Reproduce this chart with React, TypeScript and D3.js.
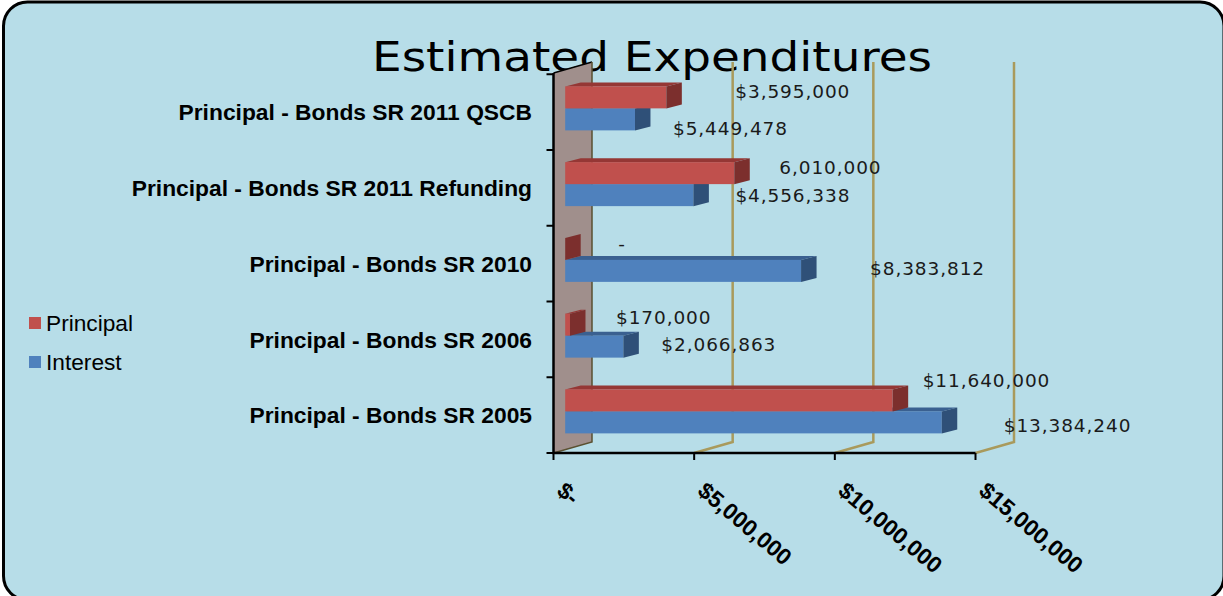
import React from "react";
import * as d3 from "d3";

const categories = [
  "Principal - Bonds SR 2011 QSCB",
  "Principal - Bonds SR 2011 Refunding",
  "Principal - Bonds SR 2010",
  "Principal - Bonds SR 2006",
  "Principal - Bonds SR 2005",
];
const principal = [3595000, 6010000, 0, 170000, 11640000];
const interest = [2480000, 4556338, 8383812, 2066863, 13384240];
const principalLabels = ["$3,595,000", "6,010,000", "-", "$170,000", "$11,640,000"];
const interestLabels = ["$5,449,478", "$4,556,338", "$8,383,812", "$2,066,863", "$13,384,240"];
const xTicks = [0, 5000000, 10000000, 15000000];
const xTickLabels = ["$-", "$5,000,000", "$10,000,000", "$15,000,000"];

// label placement relative to each bar end
const principalDx = [69, 45, 53, 46, 30];
const interestDx = [38, 42, 69, 38, 62];
const principalDy = [1, 1, 1, -1, -13];
const interestDy = [10, 1, -2, -2, 4];

const W = 1223, H = 596;
const x = d3.scaleLinear().domain([0, 15000000]).range([553.5, 975.5]);
const y = d3.scaleBand().domain(categories).range([70.5, 449.25]);
const DEPTH_X = 15.5, DEPTH_Y = 3.8, BAR_INSET = 11.7, BAR_H = 22;
const WALL_X = 38.5, WALL_Y = 11, TOP = 73, BOTTOM = 453;
const BG = "#b7dde8", GRID = "#a99a5c";
const line = d3.line();

function Bar({ v, top, front, upper, side }: any) {
  const x0 = x(0) + BAR_INSET, x1 = x(v) + BAR_INSET, y0 = top, y1 = top + BAR_H;
  return (
    <g>
      <path d={line([[x0, y0], [x0 + DEPTH_X, y0 - DEPTH_Y], [x1 + DEPTH_X, y0 - DEPTH_Y], [x1, y0]])!} fill={upper} />
      <rect x={x0} y={y0} width={x1 - x0} height={y1 - y0} fill={front} />
      <path d={line([[x1, y0], [x1 + DEPTH_X, y0 - DEPTH_Y], [x1 + DEPTH_X, y1 - DEPTH_Y], [x1, y1]])!} fill={side} />
    </g>
  );
}

export default function App() {
  const valueStyle: any = { fontFamily: "DejaVu Sans", fontSize: 18.5, letterSpacing: 0.9, fill: "#1a1a1a" };
  return (
    <svg width={W} height={H} viewBox={`0 0 ${W} ${H}`} style={{ position: "absolute", left: 0, top: 0, display: "block" }}>
      <rect width={W} height={H} fill="#fff" />
      <rect x={3.5} y={2} width={1220.5} height={598} rx={24} fill={BG} stroke="#000" strokeWidth={3} />

      <text x={372} y={71} fontFamily="DejaVu Sans" fontSize={41} textLength={560} lengthAdjust="spacingAndGlyphs" fill="#000">Estimated Expenditures</text>

      {/* back wall and gridlines */}
      <path d={line([[x(0), TOP], [x(0) + WALL_X, TOP - WALL_Y], [x(0) + WALL_X, BOTTOM - WALL_Y], [x(0), BOTTOM]])!} fill="#a08f8c" />
      <path d={line([[x(0), TOP], [x(0) + WALL_X, TOP - WALL_Y]])!} stroke="#000" strokeWidth={1.5} fill="none" />
      <path d={line([[x(0), BOTTOM], [x(0) + WALL_X, BOTTOM - WALL_Y], [x(0) + WALL_X, TOP - WALL_Y]])!} stroke="#5a5030" strokeWidth={1.5} fill="none" />
      {xTicks.slice(1).map((t) => (
        <path key={t} d={line([[x(t), BOTTOM], [x(t) + WALL_X, BOTTOM - WALL_Y], [x(t) + WALL_X, TOP - WALL_Y]])!} stroke={GRID} strokeWidth={2.5} fill="none" />
      ))}

      {/* bars */}
      {categories.map((c, i) => {
        const mid = y(c)! + y.bandwidth() / 2;
        return (
          <g key={c}>
            <Bar v={interest[i]} top={mid} front="#4f81bd" upper="#3a6090" side="#2f5078" />
            <Bar v={principal[i]} top={mid - BAR_H} front="#c0504d" upper="#953735" side="#7c2f2d" />
          </g>
        );
      })}

      {/* axes */}
      <path d={line([[x(0), TOP], [x(0), BOTTOM], [x(15000000), BOTTOM]])!} stroke="#000" strokeWidth={2.5} fill="none" />
      {d3.range(categories.length + 1).map((i) => {
        const ty = y.range()[0] + 3.75 + i * y.step();
        return <line key={i} x1={x(0) - 7} x2={x(0)} y1={ty} y2={ty} stroke="#000" strokeWidth={2} />;
      })}
      {xTicks.map((t) => (
        <line key={t} x1={x(t)} x2={x(t)} y1={BOTTOM} y2={BOTTOM + 7} stroke="#000" strokeWidth={2} />
      ))}

      {/* category labels */}
      {categories.map((c) => (
        <text key={c} x={532} y={y(c)! + y.bandwidth() / 2 + 12} textAnchor="end" fontFamily="Liberation Sans" fontWeight="bold" fontSize={22.8} fill="#000">{c}</text>
      ))}

      {/* x tick labels */}
      {xTicks.map((t, i) => (
        <text key={t} transform={`translate(${x(t) + 2},${BOTTOM + 40}) rotate(40)`} fontFamily="Liberation Sans" fontWeight="bold" fontSize={22.8} fill="#000">{xTickLabels[i]}</text>
      ))}

      {/* value labels */}
      {categories.map((c, i) => {
        const mid = y(c)! + y.bandwidth() / 2;
        return (
          <g key={c} style={valueStyle}>
            <text x={x(principal[i]) + BAR_INSET + principalDx[i]} y={mid - BAR_H / 2 + principalDy[i]}>{principalLabels[i]}</text>
            <text x={x(interest[i]) + BAR_INSET + interestDx[i]} y={mid + BAR_H / 2 + 6 + interestDy[i]}>{interestLabels[i]}</text>
          </g>
        );
      })}

      {/* legend */}
      <rect x={29} y={317} width={12} height={12} fill="#c0504d" />
      <rect x={29} y={356} width={12} height={12} fill="#4f81bd" />
      <text x={46} y={331} fontFamily="Liberation Sans" fontSize={22.7} fill="#000">Principal</text>
      <text x={46} y={370} fontFamily="Liberation Sans" fontSize={22.7} fill="#000">Interest</text>
    </svg>
  );
}
